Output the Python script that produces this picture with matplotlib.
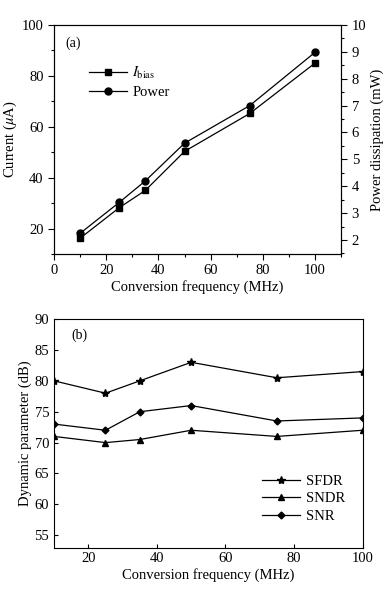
import matplotlib
matplotlib.use("Agg")
import matplotlib.pyplot as plt
from matplotlib.ticker import MultipleLocator

plt.rcParams['font.family'] = ['Liberation Serif', 'DejaVu Serif']
plt.rcParams['mathtext.fontset'] = 'stix'
plt.rcParams['font.size'] = 10

# panel (a)
freq_a = [10, 25, 35, 50, 75, 100]
ibias = [16.2, 28.2, 35.0, 50.3, 65.2, 85.0]
power = [2.25, 3.4, 4.2, 5.6, 7.0, 8.98]

# panel (b)
freq_b = [10, 25, 35, 50, 75, 100]
sfdr = [80, 78, 80, 83, 80.5, 81.5]
sndr = [71, 70, 70.5, 72, 71, 72]
snr = [73, 72, 75, 76, 73.5, 74]

fig = plt.figure(figsize=(3.89, 5.92), dpi=100)

# ---- (a) ----
ax1 = fig.add_axes([0.139, 0.571, 0.738, 0.387])
ax2 = ax1.twinx()
l1, = ax1.plot(freq_a, ibias, 'k-', marker='s', ms=5, lw=0.9, label=r'$I_{\rm bias}$')
l2, = ax2.plot(freq_a, power, 'k-', marker='o', ms=5, lw=0.9, label='Power')
ax1.set_xlim(0, 110)
ax1.set_ylim(10, 100)
ax2.set_ylim(1.48, 10)
ax1.xaxis.set_major_locator(MultipleLocator(20))
ax1.xaxis.set_minor_locator(MultipleLocator(10))
ax1.yaxis.set_major_locator(MultipleLocator(20))
ax1.yaxis.set_minor_locator(MultipleLocator(10))
ax2.yaxis.set_major_locator(MultipleLocator(1))
ax2.yaxis.set_minor_locator(MultipleLocator(0.5))
ax1.set_yticks([20, 40, 60, 80, 100])
ax2.set_yticks(range(2, 11))
for a in (ax1, ax2):
    a.tick_params(which='both', direction='out', width=0.8, labelsize=10.5)
    a.tick_params(which='major', length=4)
    a.tick_params(which='minor', length=2.5)
ax1.set_xlabel('Conversion frequency (MHz)', labelpad=2, fontsize=10.5)
ax1.set_ylabel(r'Current ($\mu$A)', labelpad=2, fontsize=10.5)
ax2.set_ylabel('Power dissipation (mW)', labelpad=3, fontsize=10.5)
ax1.text(0.038, 0.92, '(a)', transform=ax1.transAxes, va='center')
ax1.legend(handles=[l1, l2], loc='upper left', bbox_to_anchor=(0.1, 0.85),
           frameon=False, handlelength=2.6, handletextpad=0.4, labelspacing=0.3,
           borderaxespad=0, fontsize=10.5)

# ---- (b) ----
ax3 = fig.add_axes([0.139, 0.075, 0.793, 0.386])
ax3.plot(freq_b, sfdr, 'k-', marker='*', ms=6, lw=0.9, label='SFDR')
ax3.plot(freq_b, sndr, 'k-', marker='^', ms=5, lw=0.9, label='SNDR')
ax3.plot(freq_b, snr, 'k-', marker='D', ms=3.5, lw=0.9, label='SNR')
ax3.set_xlim(10, 100)
ax3.set_ylim(53, 90)
ax3.set_xticks([20, 40, 60, 80, 100])
ax3.set_yticks(range(55, 91, 5))
ax3.tick_params(direction='in', length=3, width=0.8, labelsize=10.5)
ax3.set_xlabel('Conversion frequency (MHz)', labelpad=2, fontsize=10.5)
ax3.set_ylabel('Dynamic parameter (dB)', labelpad=2, fontsize=10.5)
ax3.text(0.057, 0.93, '(b)', transform=ax3.transAxes, va='center')
ax3.legend(loc='upper left', bbox_to_anchor=(0.655, 0.345), frameon=False,
           handlelength=2.6, handletextpad=0.4, labelspacing=0.3, borderaxespad=0,
           fontsize=10.5)

fig.savefig('out.png', dpi=100)
